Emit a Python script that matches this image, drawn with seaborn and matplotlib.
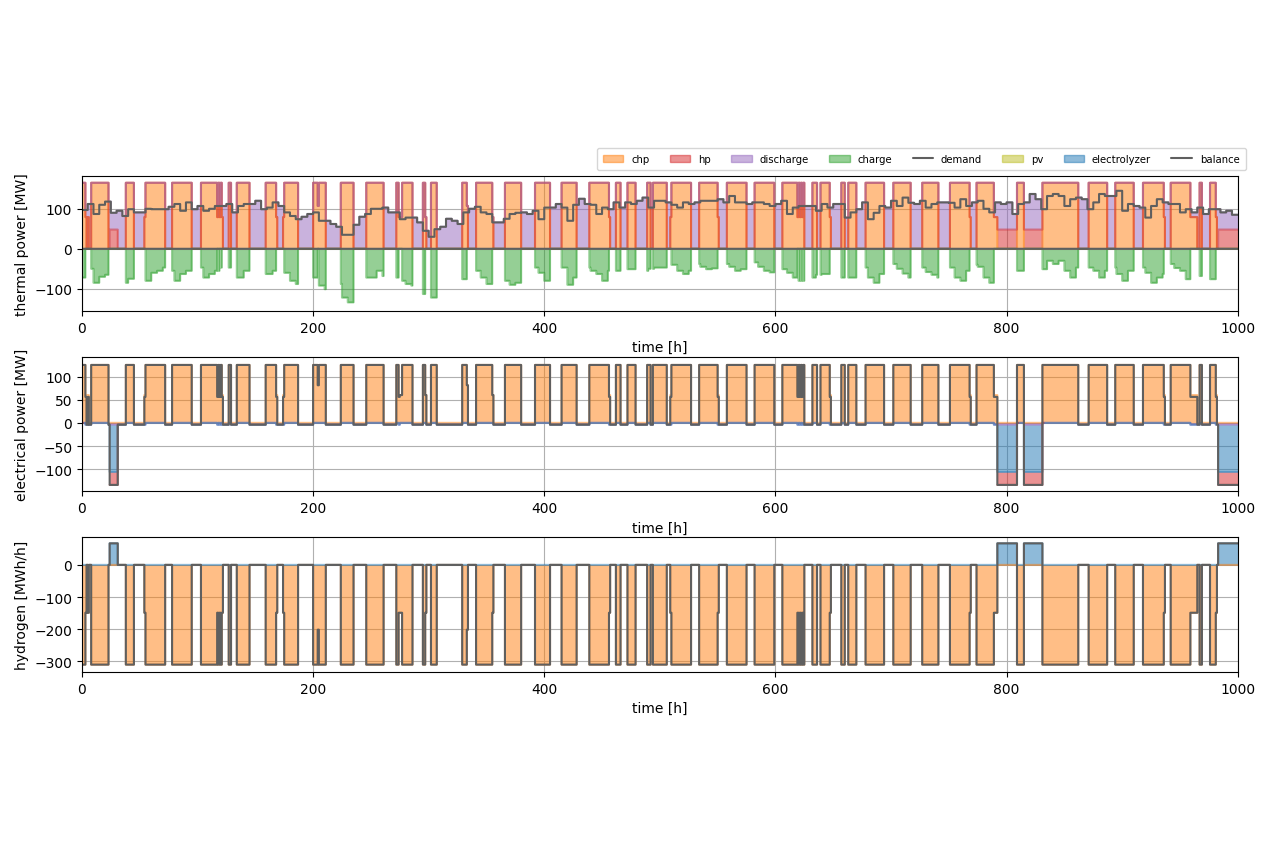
import numpy as np
import matplotlib
matplotlib.use("Agg")
import matplotlib.pyplot as plt
from matplotlib.patches import Patch
from matplotlib.lines import Line2D
import seaborn as sns

# ---------------- data ----------------
n_hours = 1000

# chp running at full load [start, end) in hours
chp_blocks = [(0, 3), (8, 23), (38, 45), (54, 72), (78, 95), (103, 122), (127, 129),
              (134, 145), (159, 169), (174, 187), (200, 211), (224, 235), (246, 261),
              (272, 286), (295, 298), (302, 307), (329, 334), (341, 356), (366, 380),
              (392, 405), (415, 428), (439, 457), (462, 466), (472, 479), (489, 492),
              (494, 506), (509, 527), (534, 551), (558, 575), (582, 599), (606, 625),
              (632, 636), (639, 648), (657, 660), (663, 670), (678, 694), (702, 717),
              (727, 741), (751, 769), (774, 792), (809, 815), (831, 862), (871, 887),
              (894, 910), (918, 937), (942, 965), (967, 969), (976, 982)]
# hours with reduced chp load (hour, share of full load)
chp_partial = [(3, 0.48), (5, 0.48), (54, 0.48), (117, 0.48), (119, 0.48), (121, 0.48),
               (168, 0.48), (174, 0.48), (204, 0.65), (274, 0.48), (275, 0.48), (276, 0.48),
               (297, 0.48), (333, 0.65), (355, 0.48), (456, 0.48), (509, 0.48), (550, 0.48),
               (619, 0.48), (621, 0.48), (623, 0.48), (647, 0.48), (768, 0.48),
               (789, 0.48), (790, 0.48), (791, 0.48), (936, 0.48),
               (959, 0.48), (960, 0.48), (961, 0.48), (962, 0.48), (963, 0.48), (964, 0.48),
               (981, 0.48)]
# electrolyzer + heat pump operation [start, end)
ely_blocks = [(24, 31), (792, 809), (815, 831), (983, 1000)]

chp_th_full = 165.0
chp_el_full = 125.0
chp_h2_full = -310.0
hp_th_on = 48.0
hp_el_on = -28.0
ely_el_on = -102.0
ely_h2_on = 67.0
pump_el_on = -4.0

# heat demand, one value per 5 hours
demand_5h = [
    97, 112, 87, 110, 118, 90, 95, 82, 99, 91,
    91, 100, 99, 99, 99, 105, 112, 95, 116, 99,
    107, 95, 100, 107, 107, 112, 91, 107, 112, 112,
    120, 99, 103, 116, 107, 91, 82, 74, 80, 87,
    91, 70, 70, 62, 55, 35, 35, 60, 80, 87,
    100, 100, 103, 91, 91, 74, 78, 78, 66, 45,
    30, 49, 55, 75, 70, 62, 91, 100, 105, 91,
    87, 66, 66, 75, 87, 90, 91, 87, 95, 74,
    103, 103, 112, 103, 70, 110, 125, 112, 110, 87,
    103, 99, 116, 103, 116, 112, 120, 128, 103, 120,
    120, 116, 110, 103, 116, 112, 116, 120, 120, 120,
    124, 116, 132, 116, 116, 112, 116, 116, 112, 107,
    112, 120, 87, 103, 107, 107, 107, 95, 112, 103,
    112, 112, 78, 91, 99, 116, 74, 90, 107, 103,
    120, 107, 128, 115, 112, 120, 103, 112, 116, 116,
    115, 103, 124, 107, 116, 120, 100, 91, 116, 112,
    116, 87, 112, 116, 137, 124, 99, 132, 137, 132,
    107, 124, 128, 124, 99, 116, 137, 132, 132, 145,
    95, 112, 107, 103, 78, 107, 124, 116, 112, 112,
    91, 99, 91, 103, 87, 99, 99, 91, 95, 85,
]
# storage charging (thermal), one value per 5 hours
charge_5h = [
    -72, -50, -85, -70, -65, 0, 0, -85, -75, 0,
    0, -80, -60, -55, -47, -55, -80, -63, -55, 0,
    -47, -72, -63, -55, -47, -47, -72, -72, -55, 0,
    0, -63, -63, -55, -55, -60, -80, -88, 0, 0,
    -72, -92, -101, 0, -88, -122, -134, 0, 0, -72,
    -72, -55, -68, 0, -72, -80, -88, -92, 0, -113,
    -122, -122, 0, 0, 0, -76, -76, 0, -55, -72,
    -88, -92, 0, -80, -90, -85, 0, 0, -47, -60,
    -80, 0, 0, -47, -90, -72, 0, -47, -55, -63,
    -80, -55, -55, -55, -51, -51, 0, -55, -50, -47,
    -47, -47, -40, -55, -63, -55, -38, -45, -51, -49,
    -47, -38, -45, -55, -51, 0, -34, -45, -55, -59,
    0, -51, -60, -72, -80, 0, -72, -65, -63, -63,
    0, -72, -72, -72, 0, -47, -72, -85, -63, 0,
    -38, -50, -62, -72, 0, -47, -58, -65, -72, 0,
    -47, -72, -80, -55, -40, -45, -72, -85, -55, 0,
    0, -55, -55, 0, 0, 0, -51, -30, -38, -30,
    -55, -72, -47, 0, -47, -55, -72, -55, -47, -63,
    -80, -55, 0, -47, -60, -85, -72, -63, -38, -48,
    -55, -76, -63, -68, 0, -76, -76, 0, 0, 0,
]

# ---------------- hourly series ----------------
chp_load = np.zeros(n_hours)
for s, e in chp_blocks:
    chp_load[s:e] = 1.0
for h, f in chp_partial:
    chp_load[h] = f
ely_on = np.zeros(n_hours)
for s, e in ely_blocks:
    ely_on[s:e] = 1.0

demand = np.repeat(np.array(demand_5h, dtype=float), 5)
chp_th = chp_th_full * chp_load
hp_th = hp_th_on * ely_on
discharge_th = np.clip(demand - chp_th - hp_th, 0, None)
charge_th = np.repeat(np.array(charge_5h, dtype=float), 5) * (chp_load == 1)
balance_th = np.zeros(n_hours)

chp_el = chp_el_full * chp_load
pump_el = pump_el_on * (discharge_th > 0)
ely_el = ely_el_on * ely_on
hp_el = hp_el_on * ely_on
balance_el = chp_el + pump_el + ely_el + hp_el

chp_h2 = chp_h2_full * chp_load
ely_h2 = ely_h2_on * ely_on
balance_h2 = chp_h2 + ely_h2

# ---------------- plotting ----------------
sns.set_style("ticks", rc={"axes.edgecolor": "black", "text.color": "black",
                           "xtick.color": "black", "ytick.color": "black",
                           "axes.labelcolor": "black"})
plt.rcParams["font.family"] = ["DejaVu Sans"]

pal = sns.color_palette("tab10")
colors = {"chp": pal[1], "hp": pal[3], "discharge": pal[4], "charge": pal[2],
          "pv": pal[8], "electrolyzer": pal[0]}
line_gray = "#5f5f5f"

x = np.arange(n_hours + 1)


def ext(y):
    return np.append(y, y[-1])


def stack(ax, cols, hide_zero=()):
    # stacked areas, positive and negative parts separately
    pos = np.zeros(n_hours + 1)
    neg = np.zeros(n_hours + 1)
    for name, y in cols:
        y = ext(y)
        if np.all(y >= 0):
            lo = pos
            pos = pos + y
            hi = pos
        else:
            lo = neg
            neg = neg + y
            hi = neg
        ax.fill_between(x, lo, hi, color=colors[name], alpha=0.5, lw=0, step="post")
        line = hi.copy()
        if name in hide_zero:
            keep = (y != 0) | (np.roll(y, 1) != 0)
            line[~keep] = np.nan
        ax.plot(x, line, color=colors[name], alpha=0.5, lw=1.5, drawstyle="steps-post")


fig, axes = plt.subplots(3, 1, figsize=(12.8, 8.53), dpi=100)
fig.subplots_adjust(left=0.064, right=0.967, top=0.7925, bottom=0.211, hspace=0.34)
ax1, ax2, ax3 = axes

stack(ax1, [("chp", chp_th), ("hp", hp_th), ("discharge", discharge_th), ("charge", charge_th)])
sns.lineplot(x=x, y=ext(demand), ax=ax1, color=line_gray, lw=1.5, drawstyle="steps-post")
sns.lineplot(x=x, y=ext(balance_th), ax=ax1, color=line_gray, lw=1.5, drawstyle="steps-post")
ax1.set_ylabel("thermal power [MW]")
ax1.set_ylim(-155, 182)
ax1.set_yticks([-100, 0, 100])

stack(ax2, [("chp", chp_el), ("discharge", pump_el), ("electrolyzer", ely_el), ("hp", hp_el)],
      hide_zero=("hp",))
sns.lineplot(x=x, y=ext(balance_el), ax=ax2, color=line_gray, lw=1.5, drawstyle="steps-post")
ax2.set_ylabel("electrical power [MW]")
ax2.set_ylim(-148, 143)
ax2.set_yticks([-100, -50, 0, 50, 100])

stack(ax3, [("chp", chp_h2), ("electrolyzer", ely_h2)])
sns.lineplot(x=x, y=ext(balance_h2), ax=ax3, color=line_gray, lw=1.5, drawstyle="steps-post")
ax3.set_ylabel("hydrogen [MWh/h]")
ax3.set_ylim(-333, 86)
ax3.set_yticks([-300, -200, -100, 0])

for ax in axes:
    ax.set_xlim(0, 1000)
    ax.set_xlabel("time [h]")
    ax.grid(True, color="#b0b0b0", lw=0.8)
    ax.set_axisbelow(True)
    for sp in ax.spines.values():
        sp.set_color("black")
        sp.set_linewidth(0.8)

handles = [
    Patch(facecolor=colors["chp"], edgecolor=colors["chp"], alpha=0.5, label="chp"),
    Patch(facecolor=colors["hp"], edgecolor=colors["hp"], alpha=0.5, label="hp"),
    Patch(facecolor=colors["discharge"], edgecolor=colors["discharge"], alpha=0.5, label="discharge"),
    Patch(facecolor=colors["charge"], edgecolor=colors["charge"], alpha=0.5, label="charge"),
    Line2D([], [], color=line_gray, lw=1.5, label="demand"),
    Patch(facecolor=colors["pv"], edgecolor=colors["pv"], alpha=0.5, label="pv"),
    Patch(facecolor=colors["electrolyzer"], edgecolor=colors["electrolyzer"], alpha=0.5, label="electrolyzer"),
    Line2D([], [], color=line_gray, lw=1.5, label="balance"),
]
ax1.legend(handles=handles, loc="lower right", bbox_to_anchor=(1.012, 1.0), ncol=8,
           frameon=True, edgecolor="0.8", fontsize=7.3, borderaxespad=0.6, borderpad=0.6)

fig.savefig("out.png", dpi=100)
